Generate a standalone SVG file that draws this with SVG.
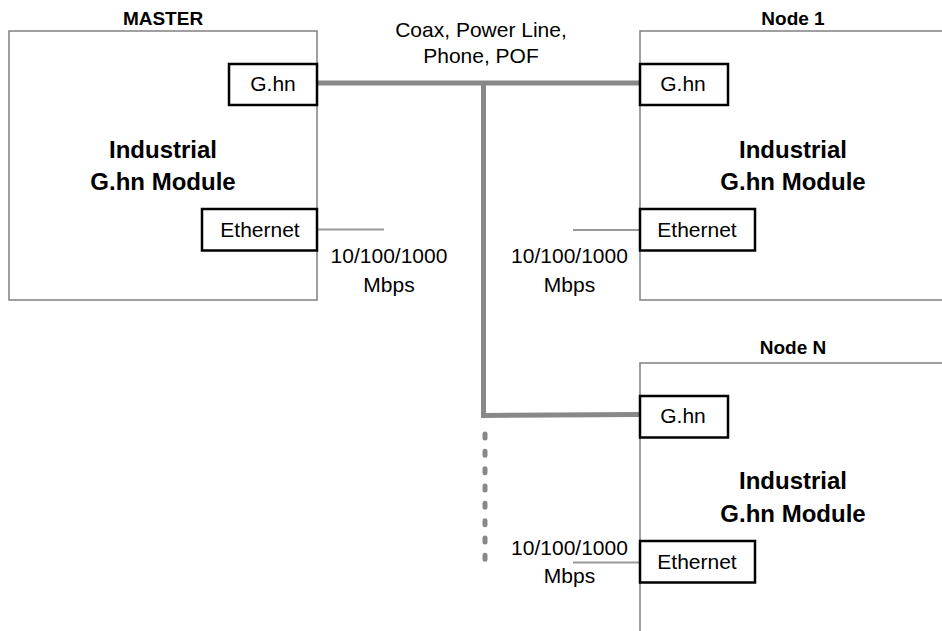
<svg xmlns="http://www.w3.org/2000/svg" width="942" height="631" viewBox="0 0 942 631">
<style>
.outer{fill:none;stroke:#808080;stroke-width:1.5}
.port{fill:#ffffff;stroke:#000000;stroke-width:2.5}
.t{font-family:"Liberation Sans",Arial,sans-serif;font-size:21px;fill:#000000;text-anchor:middle}
.b{font-family:"Liberation Sans",Arial,sans-serif;font-weight:bold;fill:#000000;text-anchor:middle}
.title{font-size:19px}
.mod{font-size:24px}
.bus{fill:none;stroke:#888888;stroke-width:5}
.eth{fill:none;stroke:#999999;stroke-width:1.8}
</style>
<rect width="942" height="631" fill="#ffffff"/>
<g id="connectors">
<line class="bus" x1="317" y1="83" x2="641" y2="83"/>
<polyline class="bus" points="483.5,83 483.5,415.5 641,414.5"/>
<line class="bus" x1="485" y1="434" x2="485" y2="560" stroke-linecap="round" stroke-dasharray="4 13.33"/>
<line class="eth" x1="317" y1="229.5" x2="384" y2="229.5"/>
<line class="eth" x1="573" y1="230" x2="640" y2="230"/>
<line class="eth" x1="573" y1="562.5" x2="640" y2="562.5"/>
</g>
<g id="medium-label">
<text class="t" x="481" y="37">Coax, Power Line,</text>
<text class="t" x="481" y="63">Phone, POF</text>
</g>
<g id="master">
<text class="b title" x="163" y="25">MASTER</text>
<rect class="outer" x="9" y="31" width="308" height="269"/>
<rect class="port" x="229" y="64" width="88" height="41"/>
<text class="t" x="273" y="91">G.hn</text>
<text class="b mod" x="163" y="158">Industrial</text>
<text class="b mod" x="163" y="190">G.hn Module</text>
<rect class="port" x="202" y="209" width="115" height="41.5"/>
<text class="t" x="260" y="237">Ethernet</text>
<text class="t" x="389" y="263">10/100/1000</text>
<text class="t" x="389" y="292">Mbps</text>
</g>
<g id="node1">
<text class="b title" x="793" y="25">Node 1</text>
<polyline class="outer" points="945,31 640,31 640,300 945,300"/>
<rect class="port" x="640" y="64" width="88" height="41"/>
<text class="t" x="683" y="91">G.hn</text>
<text class="b mod" x="793" y="158">Industrial</text>
<text class="b mod" x="793" y="190">G.hn Module</text>
<rect class="port" x="640" y="209" width="115" height="41.5"/>
<text class="t" x="697" y="237">Ethernet</text>
<text class="t" x="569.5" y="263">10/100/1000</text>
<text class="t" x="569.5" y="292">Mbps</text>
</g>
<g id="nodeN">
<text class="b title" x="793" y="354">Node N</text>
<polyline class="outer" points="945,363 640,363 640,635"/>
<rect class="port" x="640" y="396" width="88" height="41.5"/>
<text class="t" x="683" y="423">G.hn</text>
<text class="b mod" x="793" y="489">Industrial</text>
<text class="b mod" x="793" y="522">G.hn Module</text>
<rect class="port" x="640" y="541" width="115" height="41.5"/>
<text class="t" x="697" y="569">Ethernet</text>
<text class="t" x="569.5" y="555">10/100/1000</text>
<text class="t" x="569.5" y="583">Mbps</text>
</g>
</svg>
